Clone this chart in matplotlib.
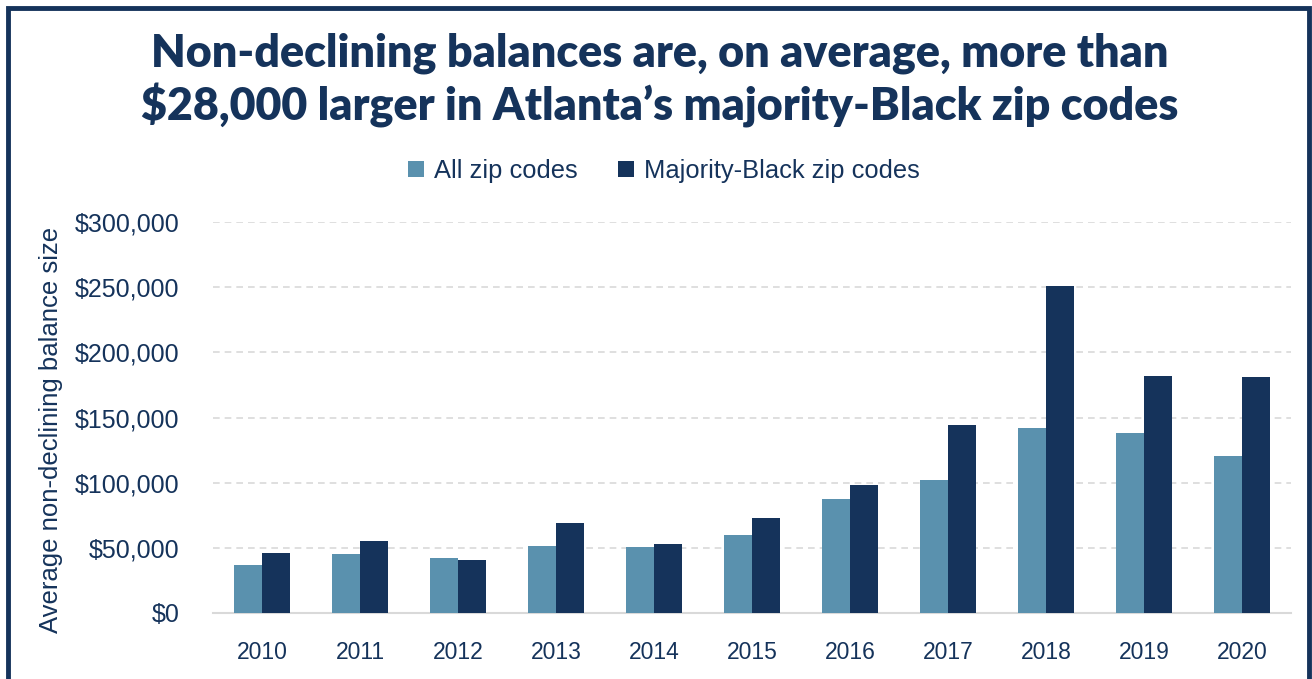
import numpy as np
import matplotlib.pyplot as plt
from matplotlib.patches import Rectangle
from matplotlib.ticker import FuncFormatter

years = ["2010", "2011", "2012", "2013", "2014", "2015", "2016", "2017", "2018", "2019", "2020"]
all_zip = [37000, 45500, 42200, 51100, 50600, 60000, 87200, 101800, 141600, 137800, 120200]
black_zip = [46200, 55000, 40600, 68800, 52900, 72900, 98400, 144200, 251000, 182000, 181000]

navy = "#15335b"
light = "#5a91ae"

plt.rcParams['font.family'] = ['Liberation Sans', 'DejaVu Sans']

fig = plt.figure(figsize=(13.12, 6.79), dpi=100)
ax = fig.add_axes([213/1312, 1-613/679, 1078/1312, 391/679])

x = np.arange(len(years))
w = 0.286
ax.bar(x - w/2, all_zip, w, color=light, label="All zip codes", zorder=3)
ax.bar(x + w/2, black_zip, w, color=navy, label="Majority-Black zip codes", zorder=3)

ax.set_xlim(-0.5, len(years) - 0.5)
ax.set_ylim(0, 300000)
ax.set_yticks(np.arange(0, 300001, 50000))
ax.yaxis.set_major_formatter(FuncFormatter(lambda v, p: "${:,.0f}".format(v)))
ax.set_xticks(x)
ax.set_xticklabels(years)
ax.tick_params(axis='both', length=0, labelcolor=navy)
ax.tick_params(axis='x', pad=20, labelsize=16.5)
ax.tick_params(axis='y', pad=24, labelsize=18)
ax.grid(axis='y', color="#d9d9d9", linestyle=(0, (4, 3)), linewidth=1.2, zorder=0)
for s in ["top", "right", "left"]:
    ax.spines[s].set_visible(False)
ax.spines["bottom"].set_color("#d9d9d9")
ax.spines["bottom"].set_linewidth(1.5)

ax.set_ylabel("Average non-declining balance size", fontsize=18.5, color=navy)
ax.yaxis.set_label_coords(-150/1078, 0.468)

leg = fig.legend(loc="center", bbox_to_anchor=(664/1312, 1-171/679), ncol=2, frameon=False,
                 fontsize=18.4, handlelength=0.6, handleheight=0.6, handletextpad=0.4,
                 columnspacing=1.6)
for t in leg.get_texts():
    t.set_color(navy)

fig.text(660/1312, 1-53/679, "Non-declining balances are, on average, more than",
         ha="center", va="center", fontsize=32.2, fontweight="heavy", color=navy,
         family=["Lato", "DejaVu Sans"])
fig.text(660/1312, 1-106/679, "$28,000 larger in Atlanta\u2019s majority-Black zip codes",
         ha="center", va="center", fontsize=32.2, fontweight="heavy", color=navy,
         family=["Lato", "DejaVu Sans"])

# frame around the whole graphic
fig.patches.append(Rectangle((7.5/1312, 1-681/679), 1301/1312, 673.5/679,
                             transform=fig.transFigure, fill=False,
                             edgecolor=navy, linewidth=3.5))

fig.savefig("out.png", dpi=100)
